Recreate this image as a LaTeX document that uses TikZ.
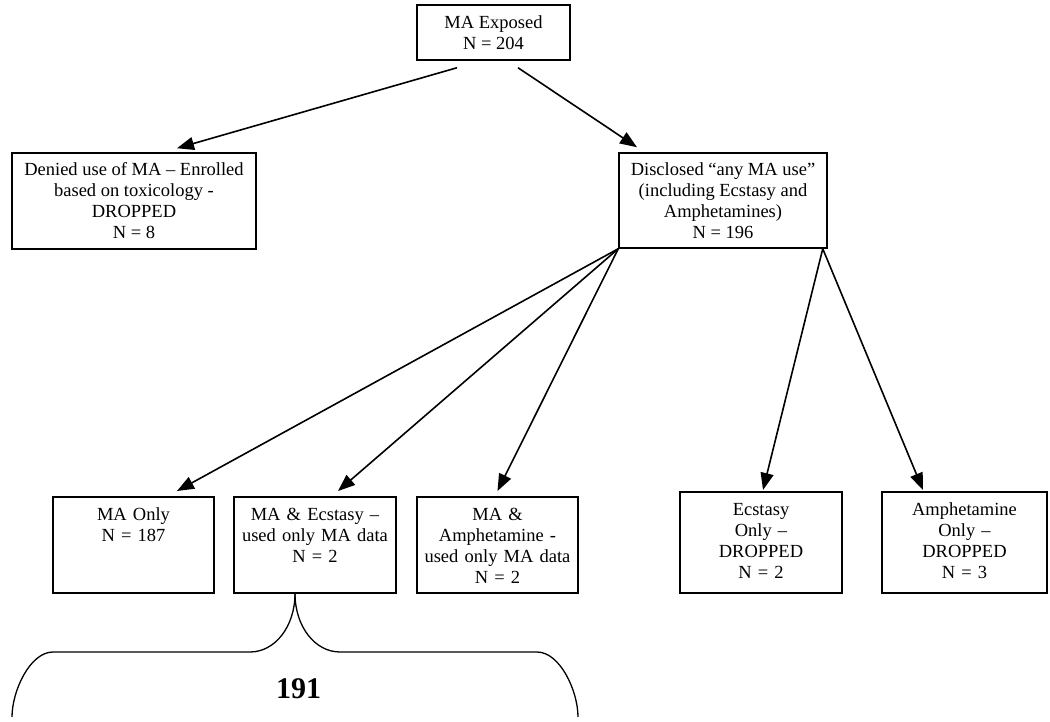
\documentclass[tikz,border=0pt]{standalone}
\usepackage{fontspec}
\setmainfont{Liberation Serif}
\usetikzlibrary{arrows.meta,calc}

\begin{document}
\begin{tikzpicture}[x=1pt,y=-1pt,font=\fontsize{18.5}{21}\selectfont,
    >={Triangle[length=17pt,width=13pt]},
    box/.style={rectangle,draw=black,line width=1.5pt,align=center,inner sep=0pt},
    lowbox/.style={rectangle,draw=black,line width=1.5pt,anchor=north,align=center,
      text width=150pt,minimum width=#1,inner xsep=3pt,inner ysep=11pt,
      text height=13pt,text depth=61pt},
    link/.style={line width=1.6pt,->}]
  \useasboundingbox (0,0) rectangle (1050,722);

  % first split
  \node[box,minimum width=153pt,minimum height=55pt] (expo) at (493.5,32.5) {MA Exposed\\N = 204};
  \node[box,minimum width=244pt,minimum height=96pt] (denied) at (134,201) {Denied use of MA -- Enrolled\\based on toxicology -\\DROPPED\\N = 8};
  \node[box,minimum width=208pt,minimum height=95pt] (discl) at (723,200.5) {Disclosed “any MA use”\\(including Ecstasy and\\Amphetamines)\\N = 196};

  % groups of use
  \node[lowbox=161pt] (maonly) at (133.5,496) {MA Only\\N = 187};
  \node[lowbox=162pt] (maecst) at (315,496) {MA \& Ecstasy --\\used only MA data\\N = 2};
  \node[lowbox=161pt] (maamph) at (497.5,496) {MA \&\\Amphetamine -\\used only MA data\\N = 2};
  \node[lowbox=162pt,text depth=66pt] (ecsonly) at (761,491) {Ecstasy\\Only --\\DROPPED\\N = 2};
  \node[lowbox=165pt,text depth=66pt] (amphonly) at (964.5,491) {Amphetamine\\Only --\\DROPPED\\N = 3};

  % arrows from the top box
  \draw[link] ([xshift=-36.5pt,yshift=-7pt]expo.south) -- ([xshift=43pt,yshift=4pt]denied.north);
  \draw[link] ([xshift=24.5pt,yshift=-7pt]expo.south) -- ([xshift=-86pt,yshift=5pt]discl.north);

  % arrows to the groups
  \draw[link] (discl.south west) -- ([xshift=43.5pt,yshift=5pt]maonly.north);
  \draw[link] (discl.south west) -- ([xshift=23pt,yshift=5pt]maecst.north);
  \draw[link] (discl.south west) -- ([yshift=5pt]maamph.north);
  \draw[link] ([xshift=-5pt]discl.south east) -- ([xshift=2pt,yshift=1pt]ecsonly.north);
  \draw[link] ([xshift=-5pt]discl.south east) -- ([xshift=-41.5pt,yshift=1pt]amphonly.north);

  % brace under the kept groups
  \coordinate (tip) at ([xshift=-20pt]maecst.south);
  \draw[line width=1.3pt] (tip) .. controls +(0,33) and +(25,0) .. (250,652) -- (53,652)
    .. controls (30,652) and (12,691) .. (12,717);
  \draw[line width=1.3pt] (tip) .. controls +(0,33) and +(-25,0) .. (340,652) -- (537,652)
    .. controls (560,652) and (578,691) .. (578,717);
  \node[font=\fontsize{30}{36}\selectfont\bfseries] (total) at (298.5,689) {191};
\end{tikzpicture}
\end{document}
